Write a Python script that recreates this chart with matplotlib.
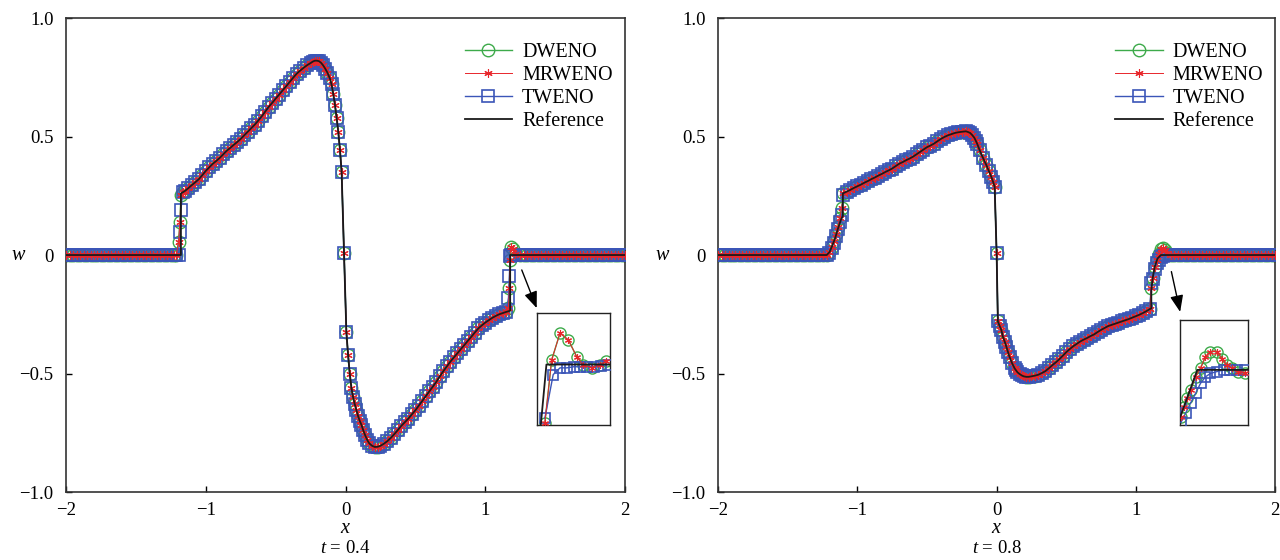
import matplotlib
matplotlib.use("Agg")
import matplotlib.pyplot as plt

plt.rcParams['font.family'] = ['Liberation Serif', 'DejaVu Serif']
plt.rcParams['mathtext.fontset'] = 'custom'
plt.rcParams['mathtext.it'] = 'Liberation Serif:italic'
plt.rcParams['mathtext.rm'] = 'Liberation Serif'

# ---------------- t = 0.4 ----------------
flat1_left_x = [-2.000, -1.975, -1.950, -1.925, -1.900, -1.875, -1.850, -1.825, -1.800, -1.775,
                -1.750, -1.725, -1.700, -1.675, -1.650, -1.625, -1.600, -1.575, -1.550, -1.525,
                -1.500, -1.475, -1.450, -1.425, -1.400, -1.375, -1.350, -1.325, -1.300, -1.275,
                -1.250, -1.225, -1.210]
shock1_left_x = [-1.195, -1.185, -1.178, -1.165]
smooth1_x = [-1.150, -1.125, -1.100, -1.075, -1.050, -1.025, -1.000, -0.975, -0.950, -0.925,
             -0.900, -0.875, -0.850, -0.825, -0.800, -0.775, -0.750, -0.725, -0.700, -0.675,
             -0.650, -0.625, -0.600, -0.575, -0.550, -0.525, -0.500, -0.475, -0.450, -0.425,
             -0.400, -0.375, -0.350, -0.325, -0.300, -0.275, -0.250, -0.235, -0.220, -0.205,
             -0.190, -0.175, -0.160, -0.145, -0.130, -0.112, -0.100, -0.088, -0.076, -0.064,
             -0.052, -0.040, -0.028, -0.011, 0.006, 0.018, 0.030, 0.042, 0.054, 0.066,
             0.078, 0.090, 0.102, 0.114, 0.127, 0.140, 0.155, 0.170, 0.190, 0.210,
             0.230, 0.250, 0.275, 0.300, 0.325, 0.350, 0.375, 0.400, 0.425, 0.450,
             0.475, 0.500, 0.525, 0.550, 0.575, 0.600, 0.625, 0.650, 0.675, 0.700,
             0.725, 0.750, 0.775, 0.800, 0.825, 0.850, 0.875, 0.900, 0.925, 0.950,
             0.975, 1.000, 1.025, 1.050, 1.075, 1.100, 1.125, 1.150]
smooth1_w = [0.270, 0.282, 0.295, 0.307, 0.320, 0.337, 0.355, 0.370, 0.385, 0.397,
             0.410, 0.425, 0.440, 0.452, 0.465, 0.477, 0.490, 0.505, 0.520, 0.535,
             0.550, 0.567, 0.585, 0.605, 0.625, 0.642, 0.660, 0.677, 0.695, 0.712,
             0.730, 0.748, 0.765, 0.778, 0.790, 0.801, 0.810, 0.816, 0.820, 0.820,
             0.818, 0.811, 0.800, 0.786, 0.770, 0.745, 0.720, 0.680, 0.635, 0.580,
             0.520, 0.445, 0.350, 0.010, -0.325, -0.420, -0.500, -0.560, -0.600, -0.630,
             -0.655, -0.680, -0.700, -0.717, -0.740, -0.760, -0.780, -0.795, -0.805, -0.810,
             -0.809, -0.805, -0.796, -0.785, -0.771, -0.755, -0.738, -0.720, -0.705, -0.690,
             -0.672, -0.655, -0.635, -0.615, -0.595, -0.575, -0.555, -0.535, -0.512, -0.490,
             -0.470, -0.450, -0.432, -0.415, -0.397, -0.380, -0.362, -0.345, -0.327, -0.310,
             -0.297, -0.285, -0.275, -0.265, -0.257, -0.250, -0.245, -0.240]
shock1_right_x = [1.166, 1.172, 1.178, 1.185, 1.200, 1.215]
flat1_right_x = [1.250, 1.275, 1.300, 1.325, 1.350, 1.375, 1.400, 1.425, 1.450, 1.475,
                 1.500, 1.525, 1.550, 1.575, 1.600, 1.625, 1.650, 1.675, 1.700, 1.725,
                 1.750, 1.775, 1.800, 1.825, 1.850, 1.875, 1.900, 1.925, 1.950, 1.975, 2.000]

dw1_left = [0.056, 0.14, 0.255, 0.265]
tw1_left = [0.0, 0.098, 0.19, 0.265]
dw1_right = [-0.225, -0.14, -0.02, 0.035, 0.025, 0.005]
tw1_right = [-0.18, -0.09, -0.005, 0.0, 0.0, 0.0]

zl1 = [0.0] * len(flat1_left_x)
zr1 = [0.0] * len(flat1_right_x)
x1 = flat1_left_x + shock1_left_x + smooth1_x + shock1_right_x + flat1_right_x
dweno1 = zl1 + dw1_left + smooth1_w + dw1_right + zr1
mrweno1 = zl1 + dw1_left + smooth1_w + dw1_right + zr1
tweno1 = zl1 + tw1_left + smooth1_w + tw1_right + zr1
ref_x1 = [-2.00, -1.178, -1.178] + smooth1_x + [1.178, 1.178, 2.00]
ref_w1 = [0.0, 0.0, 0.26] + smooth1_w + [-0.235, 0.0, 0.0]

# inset of t = 0.4 (zoom on the top of the right shock)
ins1_dw_x = [1.185, 1.198, 1.214, 1.230, 1.246, 1.258, 1.275, 1.290, 1.303]
ins1_dw_w = [-0.052, 0.004, 0.028, 0.022, 0.007, 0.0, -0.003, 0.0, 0.003]
ins1_tw_x = [1.185, 1.201, 1.214, 1.227, 1.240, 1.253, 1.265, 1.279, 1.293, 1.306]
ins1_tw_w = [-0.048, -0.009, -0.003, -0.003, -0.002, -0.002, -0.002, -0.002, -0.001, 0.0]
ins1_ref_x = [1.176, 1.188, 1.31]
ins1_ref_w = [-0.06, 0.0, 0.0]

# ---------------- t = 0.8 ----------------
flat2_left_x = [-2.000, -1.975, -1.950, -1.925, -1.900, -1.875, -1.850, -1.825, -1.800, -1.775,
                -1.750, -1.725, -1.700, -1.675, -1.650, -1.625, -1.600, -1.575, -1.550, -1.525,
                -1.500, -1.475, -1.450, -1.425, -1.400, -1.375, -1.350, -1.325, -1.300, -1.275,
                -1.250]
shock2_left_x = [-1.22, -1.20, -1.185, -1.17, -1.155, -1.14, -1.127, -1.112, -1.10]
smooth2_x = [-1.075, -1.050, -1.025, -1.000, -0.975, -0.950, -0.925, -0.900, -0.875, -0.850,
             -0.825, -0.800, -0.775, -0.750, -0.725, -0.700, -0.675, -0.650, -0.625, -0.600,
             -0.575, -0.550, -0.525, -0.500, -0.475, -0.450, -0.425, -0.400, -0.375, -0.350,
             -0.325, -0.300, -0.275, -0.250, -0.235, -0.220, -0.205, -0.190, -0.175, -0.160,
             -0.150, -0.140, -0.122, -0.098, -0.074, -0.056, -0.038, -0.026, -0.014, 0.000,
             0.009, 0.022, 0.034, 0.045, 0.058, 0.070, 0.082, 0.093, 0.110, 0.129,
             0.140, 0.150, 0.165, 0.180, 0.195, 0.213, 0.230, 0.250, 0.275, 0.300,
             0.325, 0.350, 0.375, 0.400, 0.425, 0.450, 0.475, 0.500, 0.525, 0.550,
             0.575, 0.600, 0.625, 0.650, 0.675, 0.700, 0.725, 0.750, 0.775, 0.800,
             0.825, 0.850, 0.875, 0.900, 0.925, 0.950, 0.975, 1.000, 1.025, 1.050,
             1.075, 1.100]
smooth2_w = [0.268, 0.275, 0.283, 0.290, 0.297, 0.305, 0.312, 0.320, 0.327, 0.335,
             0.342, 0.350, 0.357, 0.365, 0.375, 0.385, 0.392, 0.400, 0.407, 0.415,
             0.425, 0.435, 0.445, 0.455, 0.462, 0.470, 0.480, 0.490, 0.498, 0.505,
             0.510, 0.515, 0.518, 0.520, 0.521, 0.522, 0.519, 0.515, 0.506, 0.495,
             0.483, 0.470, 0.443, 0.410, 0.380, 0.355, 0.330, 0.310, 0.288, 0.010,
             -0.280, -0.300, -0.316, -0.345, -0.365, -0.387, -0.410, -0.430, -0.455, -0.478,
             -0.487, -0.495, -0.502, -0.508, -0.512, -0.514, -0.514, -0.512, -0.509, -0.505,
             -0.498, -0.490, -0.478, -0.465, -0.453, -0.440, -0.425, -0.410, -0.397, -0.385,
             -0.375, -0.365, -0.357, -0.350, -0.342, -0.335, -0.325, -0.316, -0.308, -0.300,
             -0.295, -0.290, -0.285, -0.280, -0.275, -0.270, -0.264, -0.258, -0.252, -0.245,
             -0.237, -0.228]
shock2_right_x = [1.111, 1.12, 1.135, 1.15, 1.165, 1.18, 1.195, 1.21, 1.225]
flat2_right_x = [1.250, 1.275, 1.300, 1.325, 1.350, 1.375, 1.400, 1.425, 1.450, 1.475,
                 1.500, 1.525, 1.550, 1.575, 1.600, 1.625, 1.650, 1.675, 1.700, 1.725,
                 1.750, 1.775, 1.800, 1.825, 1.850, 1.875, 1.900, 1.925, 1.950, 1.975, 2.000]

dw2_left = [0.0, 0.012, 0.035, 0.06, 0.09, 0.12, 0.155, 0.20, 0.26]
tw2_left = [0.0, 0.008, 0.028, 0.052, 0.08, 0.11, 0.14, 0.17, 0.255]
dw2_right = [-0.14, -0.095, -0.05, -0.02, 0.005, 0.025, 0.03, 0.02, 0.008]
tw2_right = [-0.12, -0.10, -0.06, -0.035, -0.02, -0.01, -0.005, 0.0, 0.0]

zl2 = [0.0] * len(flat2_left_x)
zr2 = [0.0] * len(flat2_right_x)
x2 = flat2_left_x + shock2_left_x + smooth2_x + shock2_right_x + flat2_right_x
dweno2 = zl2 + dw2_left + smooth2_w + dw2_right + zr2
mrweno2 = zl2 + dw2_left + smooth2_w + dw2_right + zr2
tweno2 = zl2 + tw2_left + smooth2_w + tw2_right + zr2
ref_x2 = [-2.00, -1.22, -1.20, -1.18, -1.16, -1.14, -1.117, -1.104, -1.104] + smooth2_x \
    + [1.111, 1.111, 1.12, 1.135, 1.155, 1.18, 2.00]
ref_w2 = [0.0, 0.0, 0.012, 0.04, 0.07, 0.11, 0.15, 0.165, 0.26] + smooth2_w \
    + [-0.225, -0.15, -0.10, -0.05, -0.015, 0.0, 0.0]

# inset of t = 0.8
ins2_dw_x = [1.151, 1.159, 1.166, 1.173, 1.184, 1.195, 1.206, 1.217, 1.231, 1.242,
             1.253, 1.264, 1.278, 1.293]
ins2_dw_w = [-0.0535, -0.042, -0.0325, -0.023, -0.008, 0.002, 0.015, 0.021, 0.021, 0.013,
             0.0055, 0.002, -0.002, -0.004]
ins2_tw_x = [1.152, 1.162, 1.173, 1.184, 1.195, 1.206, 1.217, 1.231, 1.246, 1.26, 1.275, 1.293]
ins2_tw_w = [-0.06, -0.0497, -0.038, -0.027, -0.0154, -0.008, -0.004, -0.002, 0.0, 0.0, 0.0, 0.0]
ins2_ref_x = [1.148, 1.188, 1.30]
ins2_ref_w = [-0.057, 0.0, 0.0]

GREEN = '#3daa4a'
RED = '#e8262b'
BLUE = '#3b55b8'
BLACK = '#1a1a1a'


def draw_series(ax, dx, dw, mr, tx, tw, rx, rw, ms=9.0, lw=1.0):
    h1, = ax.plot(dx, dw, color=GREEN, lw=lw, marker='o', ms=ms, mfc='none', mew=1.0,
                  label='DWENO', zorder=2)
    h3, = ax.plot(tx, tw, color=BLUE, lw=lw, marker='s', ms=ms - 0.8, mfc='none', mew=1.2,
                  label='TWENO', zorder=3)
    h2, = ax.plot(dx, mr, color=RED, lw=0.7, marker=(6, 2, 0), ms=ms - 3.0, mew=0.8,
                  label='MRWENO', zorder=4)
    h4, = ax.plot(rx, rw, color=BLACK, lw=1.3, label='Reference', zorder=5)
    return [h1, h2, h3, h4]


panels = [
    (x1, dweno1, mrweno1, tweno1, ref_x1, ref_w1, '0.4', -0.084,
     (ins1_dw_x, ins1_dw_w, ins1_tw_x, ins1_tw_w, ins1_ref_x, ins1_ref_w),
     (1.17, 1.31), (-0.054, 0.046), [0.8426, 0.1414, 0.1306, 0.2363],
     (1.261, -0.063), (1.368, -0.224)),
    (x2, dweno2, mrweno2, tweno2, ref_x2, ref_w2, '0.8', -0.10,
     (ins2_dw_x, ins2_dw_w, ins2_tw_x, ins2_tw_w, ins2_ref_x, ins2_ref_w),
     (1.15, 1.30), (-0.063, 0.057), [0.8294, 0.1414, 0.1221, 0.2215],
     (1.255, -0.07), (1.318, -0.24)),
]

fig = plt.figure(figsize=(12.8, 5.6), dpi=100)
rects = [[0.0516, 0.1214, 0.4367, 0.8464], [0.561, 0.1214, 0.4352, 0.8464]]

for rect, p in zip(rects, panels):
    x, dw, mr, tw, rx, rw, tlabel, wpos, ins, ixlim, iylim, irect, a_from, a_to = p
    ax = fig.add_axes(rect)
    handles = draw_series(ax, x, dw, mr, x, tw, rx, rw)
    ax.set_xlim(-2, 2)
    ax.set_ylim(-1, 1)
    ax.set_xticks([-2, -1, 0, 1, 2])
    ax.set_xticklabels(['\u22122', '\u22121', '0', '1', '2'])
    ax.set_yticks([-1, -0.5, 0, 0.5, 1])
    ax.set_yticklabels(['\u22121.0', '\u22120.5', '0', '0.5', '1.0'])
    ax.tick_params(direction='in', length=4, width=1, labelsize=13.5, pad=7,
                   top=False, right=False)
    ax.tick_params(axis='y', pad=9)
    for s in ax.spines.values():
        s.set_linewidth(1.2)
        s.set_color('#333333')
    ax.text(wpos, 0.5, '$w$', transform=ax.transAxes, ha='center', va='center', fontsize=14.5)
    ax.text(0.5, -0.076, '$x$', transform=ax.transAxes, ha='center', va='center', fontsize=14.5)
    ax.text(0.5, -0.12, '$t$ = ' + tlabel, transform=ax.transAxes, ha='center', va='center',
            fontsize=13.5)
    ax.legend(handles=handles, loc='upper left', bbox_to_anchor=(0.713, 0.948), frameon=False,
              fontsize=14.5, handlelength=2.35, handletextpad=0.5, labelspacing=0.2,
              borderaxespad=0, borderpad=0)
    ax.annotate('', xy=a_to, xytext=a_from,
                arrowprops=dict(arrowstyle='-|>,head_length=1.0,head_width=0.4',
                                color='black', lw=1.0, shrinkA=0, shrinkB=0))

    iax = ax.inset_axes(irect)
    idw_x, idw_w, itw_x, itw_w, iref_x, iref_w = ins
    draw_series(iax, idw_x, idw_w, idw_w, itw_x, itw_w, iref_x, iref_w, ms=8.0)
    iax.set_xlim(*ixlim)
    iax.set_ylim(*iylim)
    iax.set_xticks([])
    iax.set_yticks([])
    for s in iax.spines.values():
        s.set_linewidth(1.0)
        s.set_color('#222222')

fig.savefig('out.png', dpi=100)
